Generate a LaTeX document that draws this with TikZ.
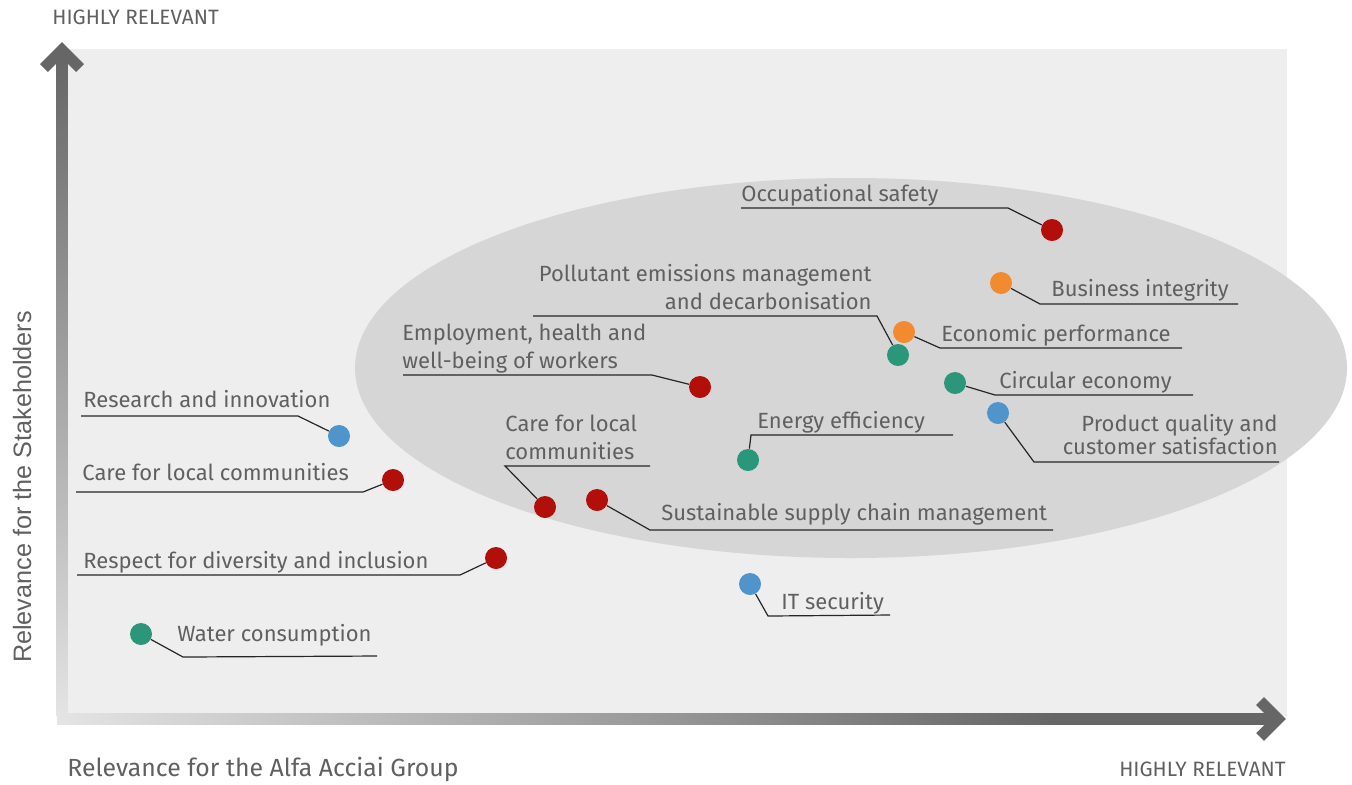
\documentclass[tikz,border=0pt]{standalone}
\usepackage{fontspec}
\usepackage{xcolor}
\usepackage{tikz}
\setmainfont{Fira Sans}
\newfontfamily\axisfont{Liberation Sans}
\usetikzlibrary{positioning}

\definecolor{panel}{RGB}{238,238,238}
\definecolor{cluster}{RGB}{214,214,214}
\definecolor{axdark}{RGB}{102,102,102}
\definecolor{axlight}{RGB}{228,228,228}
\definecolor{txtgray}{RGB}{96,96,96}
\definecolor{issred}{RGB}{178,15,10}
\definecolor{issgreen}{RGB}{43,150,122}
\definecolor{issblue}{RGB}{79,148,202}
\definecolor{issorange}{RGB}{242,139,48}

\pgfdeclarehorizontalshading{xshaft}{100bp}{color(0bp)=(axlight); color(25bp)=(axlight); color(66bp)=(axdark); color(100bp)=(axdark)}

\tikzset{
  topic/.style={circle, fill=#1, minimum size=11pt, inner sep=0pt},
  tlabel/.style={inner sep=0pt, text=txtgray, font=\fontsize{11}{14}\selectfont},
  axtext/.style={inner sep=0pt, text=txtgray, font=\fontsize{10.4}{12}\selectfont},
  lead/.style={draw=black!85, line width=0.6pt},
}

\begin{document}
\begin{tikzpicture}[x=0.5pt,y=-0.5pt]
         \useasboundingbox (0,0) rectangle (1352,784);
         % Panel and cluster
         \fill [panel] (68,49) rectangle (1287,716);
         \fill [cluster] (851,368) ellipse [x radius=496, y radius=190];
         % Axes
         \shade [bottom color=axlight, top color=axdark] (56.5,716) rectangle (67.5,56);
         \draw [axdark, line width=5.5pt, line join=miter] (44,68) -- (62,50) -- (80,68);
         \shade [shading=xshaft] (57,713.5) rectangle (1272,724.5);
         \draw [axdark, line width=5.5pt, line join=miter] (1260,701) -- (1278,719) -- (1260,737);
         \node [axtext, anchor=base west] (ytop) at (52,24) {HIGHLY RELEVANT};
         \node [axtext, anchor=base east] (xright) at (1286,776) {HIGHLY RELEVANT};
         \node [tlabel, font=\fontsize{12.4}{14}\selectfont, anchor=base west] (xname) at (67,776) {Relevance for the Alfa Acciai Group};
         \node [inner sep=0pt, text=txtgray, font=\axisfont\fontsize{12.6}{14}\selectfont, rotate=90, anchor=base] (yname) at (31,487) {Relevance for the Stakeholders};
         % Leader lines
         \coordinate (safetyb) at (1008,208);    \coordinate (safetye) at (741,208);
         \coordinate (integrb) at (1040,304);    \coordinate (integre) at (1238,304);
         \coordinate (pollutb) at (877,316);     \coordinate (pollute) at (533,316);
         \coordinate (econb)   at (940,348);     \coordinate (econe)   at (1182,348);
         \coordinate (circb)   at (995,395);     \coordinate (circe)   at (1193,395);
         \coordinate (qualb)   at (1034,462);    \coordinate (quale)   at (1279,462);
         \coordinate (energb)  at (751,435);     \coordinate (energe)  at (953,435);
         \coordinate (supplb)  at (650,530);     \coordinate (supple)  at (1053,530);
         \coordinate (localb)  at (505,466);     \coordinate (locale)  at (650,466);
         \coordinate (workb)   at (652,375);     \coordinate (worke)   at (403,375);
         \coordinate (resb)    at (298,416);     \coordinate (rese)    at (81,416);
         \coordinate (commb)   at (363,492);     \coordinate (comme)   at (76,492);
         \coordinate (divb)    at (460,575);     \coordinate (dive)    at (77,575);
         \coordinate (waterb)  at (183,657);     \coordinate (watere)  at (377,656);
         \coordinate (itb)     at (768,616);     \coordinate (ite)     at (890,615);
         % Topics
         \node [topic=issred]    (safety) at (1052,230) {};
         \node [topic=issorange] (integr) at (1001,283) {};
         \node [topic=issorange] (econ)   at (904,332) {};
         \node [topic=issgreen]  (pollut) at (898,355) {};
         \node [topic=issgreen]  (circ)   at (955,383) {};
         \node [topic=issblue]   (qual)   at (998,413) {};
         \node [topic=issgreen]  (energ)  at (748,460) {};
         \node [topic=issred]    (suppl)  at (597,500) {};
         \node [topic=issred]    (local)  at (545,507) {};
         \node [topic=issred]    (work)   at (700,387) {};
         \node [topic=issblue]   (res)    at (339,436) {};
         \node [topic=issred]    (comm)   at (393,480) {};
         \node [topic=issred]    (div)    at (496,558) {};
         \node [topic=issgreen]  (water)  at (141,634) {};
         \node [topic=issblue]   (it)     at (750,584) {};
         \foreach \n in {safety, integr, pollut, econ, circ, qual, energ, suppl, local, work, res, comm, div, water, it}
           \draw [lead] (\n) -- (\n b) -- (\n e);
         % Labels (multi-line ones sit on the baseline of their last line)
         \node [tlabel, anchor=base west] (safetyt) at (741,201) {Occupational safety};
         \node [tlabel, anchor=base west] (integrt) at (1051,296) {Business integrity};
         \node [tlabel, anchor=base east, align=right] (pollutt) at (872,309) {Pollutant emissions management\\and decarbonisation};
         \node [tlabel, anchor=base west] (econt) at (941,341) {Economic performance};
         \node [tlabel, anchor=base west] (circt) at (999,388) {Circular economy};
         \node [tlabel, anchor=base east, align=right, font=\fontsize{11}{11.5}\selectfont] (qualt) at (1278,454) {Product quality and\\customer satisfaction};
         \node [tlabel, anchor=base west] (energt) at (757,428) {Energy efficiency};
         \node [tlabel, anchor=base west] (supplt) at (661,520) {Sustainable supply chain management};
         \node [tlabel, anchor=base west, align=left] (localt) at (505,459) {Care for local\\communities};
         \node [tlabel, anchor=base west, align=left] (workt) at (402,368) {Employment, health and\\well-being of workers};
         \node [tlabel, anchor=base west] (rest) at (83,407) {Research and innovation};
         \node [tlabel, anchor=base west] (commt) at (82,480) {Care for local communities};
         \node [tlabel, anchor=base west] (divt) at (83,568) {Respect for diversity and inclusion};
         \node [tlabel, anchor=base west] (watert) at (177,641) {Water consumption};
         \node [tlabel, anchor=base west] (itt) at (781,609) {IT security};
     \end{tikzpicture}
\end{document}
